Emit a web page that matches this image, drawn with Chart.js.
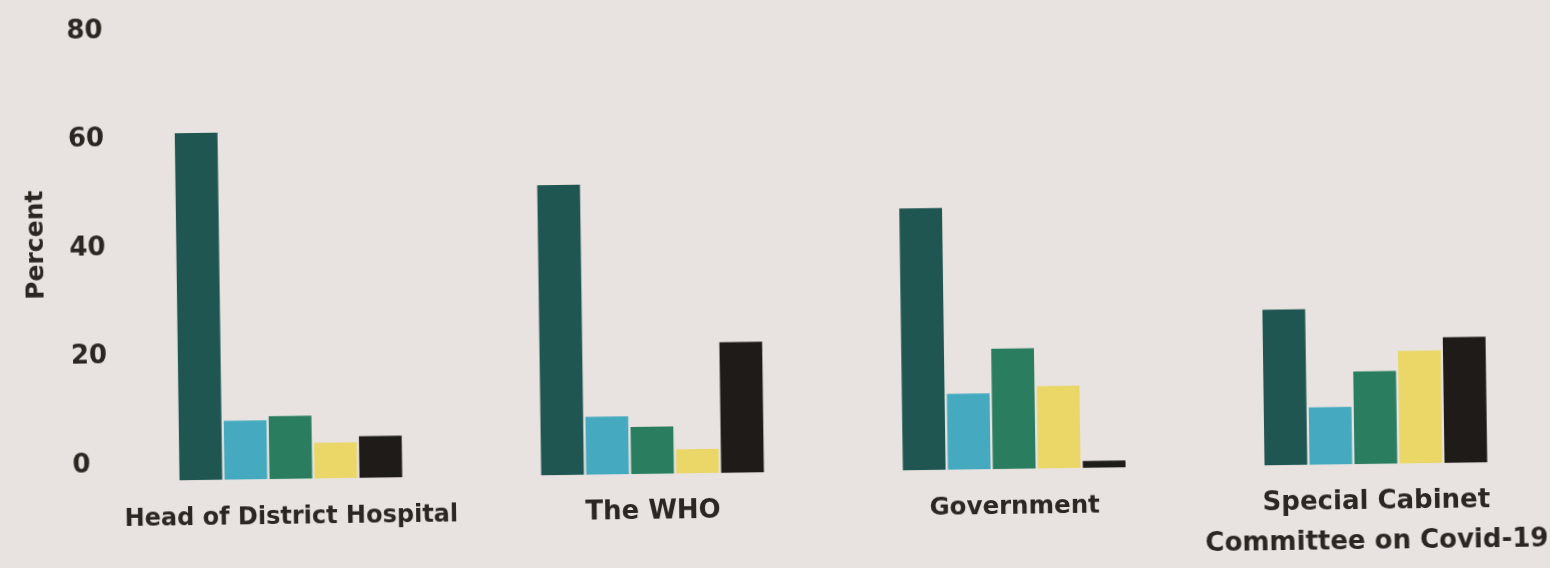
<!DOCTYPE html>
<html>
<head>
<meta charset="utf-8">
<script src="https://cdn.jsdelivr.net/npm/chart.js@4.4.1/dist/chart.umd.min.js"></script>
<style>
  html, body { margin:0; padding:0; background:#e8e3e0; overflow:hidden; width:1550px; height:568px; }
  #wrap { position:absolute; left:0; top:0; width:1570px; height:568px;
          transform-origin:775px 284px; transform:rotate(-0.79deg); }
  #c { display:block; }
  #ytitle { position:absolute; left:34.5px; top:234.8px;
            transform:translate(-50%,-50%) rotate(-90deg);
            font:bold 25px "DejaVu Sans", sans-serif; color:#2b2622; white-space:nowrap; }
</style>
</head>
<body>
<div id="wrap">
  <canvas id="c" width="1570" height="568"></canvas>
  <div id="ytitle">Percent</div>
</div>
<script>
// ---- data ----
const categories = [
  "Head of District Hospital",
  "The WHO",
  "Government",
  ["Special Cabinet", "Committee on Covid-19"]
];
const yTicks = [0, 20, 40, 60, 80];
const seriesDark   = [64.0, 53.5, 48.3, 28.7];
const seriesCyan   = [10.9, 10.7, 14.0, 10.6];
const seriesGreen  = [11.6,  8.7, 22.2, 17.1];
const seriesYellow = [ 6.6,  4.5, 15.2, 20.8];
const seriesBlack  = [ 7.7, 24.1,  1.3, 23.2];

// ---- styling ----
const colors = ["#1f5652", "#45aabf", "#2a7d5f", "#ead768", "#1f1b18"];
const textColor = "#2b2622";
const labelSizes = [24, 26, 24.5, 26];

const series = [seriesDark, seriesCyan, seriesGreen, seriesYellow, seriesBlack];
const datasets = series.map((d, i) => ({
  label: "Series " + (i + 1),
  data: d,
  backgroundColor: colors[i],
  borderWidth: 0,
  barPercentage: 0.95,
  categoryPercentage: 0.622
}));

new Chart(document.getElementById("c"), {
  type: "bar",
  data: { labels: categories, datasets },
  options: {
    responsive: false,
    animation: false,
    devicePixelRatio: 1,
    layout: { padding: { left: 70, top: 38.3, right: 15.8, bottom: 0 } },
    plugins: { legend: { display: false }, tooltip: { enabled: false } },
    scales: {
      x: {
        grid: { display: false, drawTicks: false },
        border: { display: false },
        ticks: {
          color: textColor,
          padding: 18,
          maxRotation: 0,
          autoSkip: false,
          font: (ctx) => ({
            family: "'DejaVu Sans', sans-serif",
            weight: "bold",
            size: labelSizes[ctx.index] || 24,
            lineHeight: "40px"
          })
        },
        afterFit: (s) => { s.height = 95.7; }
      },
      y: {
        min: 0, max: 80,
        afterBuildTicks: (s) => { s.ticks = yTicks.map(v => ({ value: v })); },
        grid: { display: false, drawTicks: false },
        border: { display: false },
        ticks: {
          color: textColor,
          crossAlign: "far",
          labelOffset: -16.5,
          padding: 0,
          font: { family: "'DejaVu Sans', sans-serif", weight: "bold", size: 26 }
        },
        afterFit: (s) => { s.width = 37.4; }
      }
    }
  }
});
</script>
</body>
</html>
